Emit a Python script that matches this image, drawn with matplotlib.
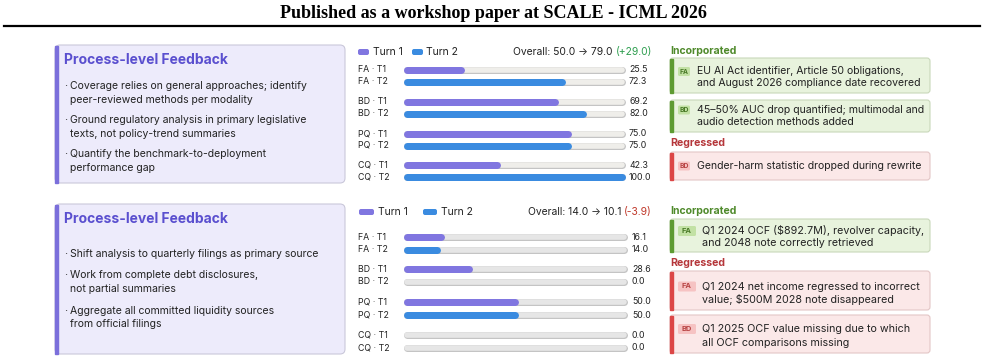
import matplotlib.pyplot as plt
from matplotlib.patches import FancyBboxPatch, Rectangle

plt.rcParams['font.family'] = ['Inter', 'DejaVu Sans']

W, H = 985, 361

# ---- data ----
tasks = ['FA', 'BD', 'PQ', 'CQ']
turn1_top = [25.5, 69.2, 75.0, 42.3]
turn2_top = [72.3, 82.0, 75.0, 100.0]
turn1_bottom = [16.1, 28.6, 50.0, 0.0]
turn2_bottom = [14.0, 0.0, 50.0, 0.0]
overall_top = [50.0, 79.0]
overall_bottom = [14.0, 10.1]

feedback_top = [
    ['Coverage relies on general approaches; identify', 'peer-reviewed methods per modality'],
    ['Ground regulatory analysis in primary legislative', 'texts, not policy-trend summaries'],
    ['Quantify the benchmark-to-deployment', 'performance gap'],
]
feedback_bottom = [
    ['Shift analysis to quarterly filings as primary source'],
    ['Work from complete debt disclosures,', 'not partial summaries'],
    ['Aggregate all committed liquidity sources', 'from official filings'],
]

incorporated_top = [
    ('FA', ['EU AI Act identifier, Article 50 obligations,', 'and August 2026 compliance date recovered']),
    ('BD', ['45\u201350% AUC drop quantified; multimodal and', 'audio detection methods added']),
]
regressed_top = [
    ('BD', ['Gender-harm statistic dropped during rewrite']),
]
incorporated_bottom = [
    ('FA', ['Q1 2024 OCF ($892.7M), revolver capacity,', 'and 2048 note correctly retrieved']),
]
regressed_bottom = [
    ('FA', ['Q1 2024 net income regressed to incorrect', 'value; $500M 2028 note disappeared']),
    ('BD', ['Q1 2025 OCF value missing due to which', 'all OCF comparisons missing']),
]

# ---- colours ----
c_text = '#222222'
c_purple = '#8076E0'
c_blue = '#3A8BE0'
c_title = '#5A4FCF'
c_green = '#4F8A2B'
c_red = '#B5363A'

fig = plt.figure(figsize=(W / 100, H / 100), dpi=100)
ax = fig.add_axes([0, 0, 1, 1])
ax.set_xlim(0, W)
ax.set_ylim(H, 0)
ax.axis('off')
renderer = fig.canvas.get_renderer()


def fit_size(s, width_px, **kw):
    # font size that gives the sample string the width seen in the reference
    t = ax.text(0, 0, s, fontsize=10, **kw)
    w = t.get_window_extent(renderer).width
    t.remove()
    return 10 * width_px / w


fs_header = fit_size('Published as a workshop paper at SCALE - ICML 2026', 427,
                     family='Liberation Serif', weight='bold')
fs_title = fit_size('Process-level Feedback', 164, weight='bold')
fs_bullet = fit_size('Coverage relies on general approaches; identify', 239)
fs_card_top = fit_size('EU AI Act identifier, Article 50 obligations,', 209)
fs_card_bot = fit_size('Q1 2024 OCF ($892.7M), revolver capacity,', 222)
fs_section = fit_size('Incorporated', 67, weight='bold')
fs_overall = fit_size('Overall: 50.0 \u2192 79.0 (+29.0)', 140)
fs_row = fit_size('FA \u00b7 T1', 28)
fs_legend = fit_size('Turn 1', 30)


def rbox(x0, y0, x1, y1, fc, ec, r=4, lw=0.8, z=1):
    p = FancyBboxPatch((x0, y0), x1 - x0, y1 - y0,
                       boxstyle=f'round,pad=0,rounding_size={r}',
                       fc=fc, ec=ec, lw=lw, zorder=z)
    ax.add_patch(p)


# header
ax.text(W / 2 + 1, 14, 'Published as a workshop paper at SCALE - ICML 2026',
        family='Liberation Serif', weight='bold', fontsize=fs_header,
        ha='center', va='center', color='black')
ax.plot([4, 980], [25.5, 25.5], color='black', lw=1.6)


def feedback_panel(y0, y1, title_y, bullets, line_ys):
    rbox(55, y0, 345, y1, '#EDEBFB', '#CAC8DA', r=5)
    ax.add_patch(Rectangle((55, y0 + 0.5), 3, y1 - y0 - 1, color='#7B6FDB', zorder=2))
    ax.text(64, title_y, 'Process-level Feedback', fontsize=fs_title, weight='bold',
            color=c_title, ha='left', va='center')
    k = 0
    for lines in bullets:
        for j, line in enumerate(lines):
            if j == 0:
                ax.text(64, line_ys[k], '\u00b7', fontsize=fs_bullet, color=c_text,
                        ha='left', va='center')
            ax.text(70, line_ys[k], line, fontsize=fs_bullet, color=c_text,
                    ha='left', va='center')
            k += 1


feedback_panel(45, 183, 60, feedback_top, [86, 100, 120, 134, 154, 168])
feedback_panel(204, 354, 219, feedback_bottom, [254, 275, 289, 311, 324])


def bar_chart(t1, t2, row_ys, x0, x1, val_x, track_fc, legend_y, sw, overall, delta_col):
    lw_px = 7
    r = lw_px / 2
    bax = fig.add_axes([(x0 + r) / W, 0, (x1 - x0 - lw_px) / W, 1])
    bax.set_xlim(0, 100)
    bax.set_ylim(H, 0)
    bax.axis('off')
    lw = lw_px * 0.72
    k = 0
    for i, name in enumerate(tasks):
        for turn, vals, col in ((1, t1, c_purple), (2, t2, c_blue)):
            y = row_ys[k]
            bax.plot([0, 100], [y, y], color='#C4C4C4', lw=lw, solid_capstyle='round',
                     clip_on=False, zorder=1)
            bax.plot([0, 100], [y, y], color=track_fc, lw=lw - 1.0, solid_capstyle='round',
                     clip_on=False, zorder=2)
            if vals[i] > 0:
                bax.plot([0, vals[i]], [y, y], color=col, lw=lw, solid_capstyle='round',
                         clip_on=False, zorder=3)
            ax.text(358, y, f'{name} \u00b7 T{turn}', fontsize=fs_row, color=c_text,
                    ha='left', va='center')
            ax.text(val_x, y, f'{vals[i]:.1f}', fontsize=fs_row, color=c_text,
                    ha='left', va='center')
            k += 1
    # legend
    (p0, p1, t1x), (b0, b1, t2x) = sw
    rbox(p0, legend_y - 3, p1, legend_y + 3, c_purple, 'none', r=2)
    ax.text(t1x, legend_y, 'Turn 1', fontsize=fs_legend, color=c_text, ha='left', va='center')
    rbox(b0, legend_y - 3, b1, legend_y + 3, c_blue, 'none', r=2)
    ax.text(t2x, legend_y, 'Turn 2', fontsize=fs_legend, color=c_text, ha='left', va='center')
    d = overall[1] - overall[0]
    td = ax.text(652, legend_y, f'({d:+.1f})', fontsize=fs_overall, color=delta_col,
                 ha='right', va='center')
    ax.annotate(f'Overall: {overall[0]:.1f} \u2192 {overall[1]:.1f} ', xy=(0, 0.5),
                xycoords=td, fontsize=fs_overall, color=c_text, ha='right', va='center')


bar_chart(turn1_top, turn2_top, [70, 82, 101.5, 113.5, 134, 145.5, 165, 177],
          403, 625, 629, '#EFEEEA', 52,
          ((358, 369, 373), (412, 423, 426)), overall_top, '#2E9E4F')
bar_chart(turn1_bottom, turn2_bottom, [237, 250, 269, 282, 302, 315, 335, 348],
          403, 627, 632, '#E6E6E6', 212,
          ((359, 374, 378), (423, 437, 441)), overall_bottom, '#C0392B')


def card(y0, y1, tag, lines, line_ys, kind, badge_w, badge_h, badge_x, text_x, badge_fs, fs):
    if kind == 'inc':
        fc, ec, bar, bfc, btc = '#E8F3DD', '#C9D8BA', '#5E9B32', '#C2E1A4', '#4A7A28'
    else:
        fc, ec, bar, bfc, btc = '#FBE8E8', '#E3C6C6', '#DC4646', '#F6C3C3', '#B84545'
    rbox(670, y0, 930, y1, fc, ec, r=3)
    ax.add_patch(Rectangle((670, y0 + 0.5), 2.5, y1 - y0 - 1, color=bar, zorder=2))
    by = line_ys[0]
    rbox(badge_x, by - badge_h / 2, badge_x + badge_w, by + badge_h / 2, bfc, 'none', r=1.5, z=3)
    ax.text(badge_x + badge_w / 2, by, tag, fontsize=badge_fs, weight='bold', color=btc,
            ha='center', va='center', zorder=4)
    for line, y in zip(lines, line_ys):
        ax.text(text_x, y, line, fontsize=fs, color=c_text, ha='left', va='center', zorder=4)


# top right
ax.text(670, 51, 'Incorporated', fontsize=fs_section, weight='bold', color=c_green,
        ha='left', va='center')
top_inc_pos = [(58, 93, [71.5, 83]), (100, 132, [110, 121.7])]
for (tag, lines), (y0, y1, ys) in zip(incorporated_top, top_inc_pos):
    card(y0, y1, tag, lines, ys, 'inc', 12, 9, 678, 697, 4.8, fs_card_top)
ax.text(670, 143, 'Regressed', fontsize=fs_section, weight='bold', color=c_red,
        ha='left', va='center')
top_reg_pos = [(152, 180, [166])]
for (tag, lines), (y0, y1, ys) in zip(regressed_top, top_reg_pos):
    card(y0, y1, tag, lines, ys, 'reg', 12, 9, 678, 697, 4.8, fs_card_top)

# bottom right
ax.text(670, 211, 'Incorporated', fontsize=fs_section, weight='bold', color=c_green,
        ha='left', va='center')
bot_inc_pos = [(219, 252, [231, 243.5])]
for (tag, lines), (y0, y1, ys) in zip(incorporated_bottom, bot_inc_pos):
    card(y0, y1, tag, lines, ys, 'inc', 18, 10, 678, 702, 5.4, fs_card_bot)
ax.text(670, 263, 'Regressed', fontsize=fs_section, weight='bold', color=c_red,
        ha='left', va='center')
bot_reg_pos = [(271, 310, [286.5, 299.5]), (315, 353, [329, 343])]
for (tag, lines), (y0, y1, ys) in zip(regressed_bottom, bot_reg_pos):
    card(y0, y1, tag, lines, ys, 'reg', 18, 10, 678, 702, 5.4, fs_card_bot)

fig.savefig('out.png', dpi=100)
